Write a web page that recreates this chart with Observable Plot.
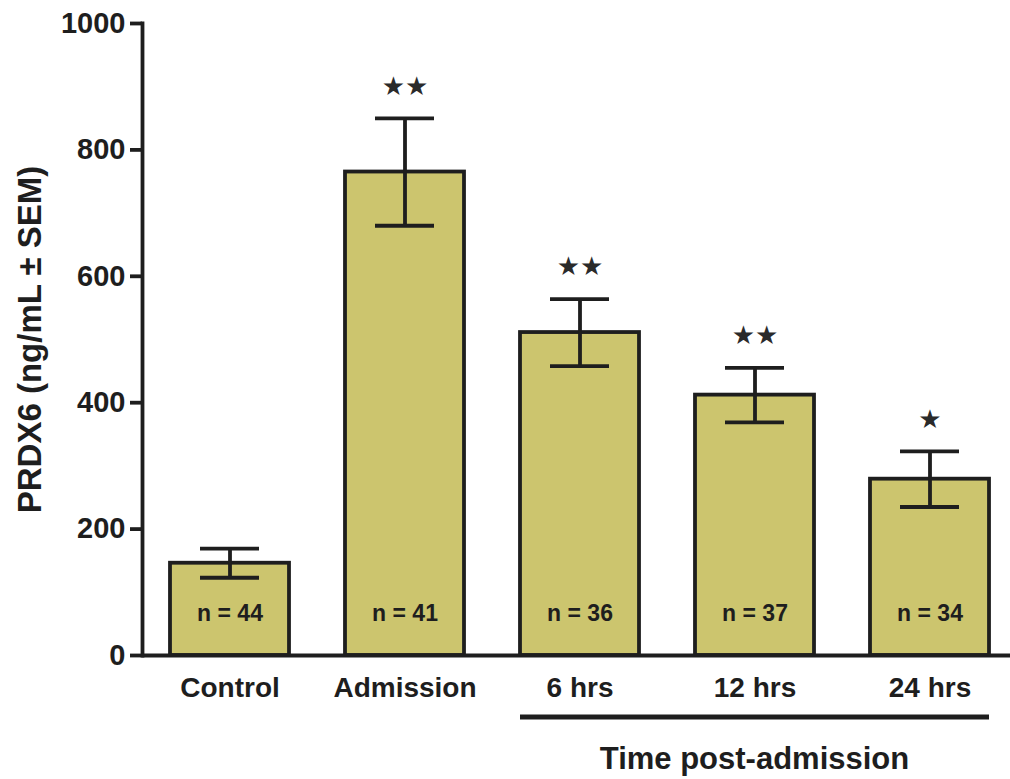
<!DOCTYPE html>
<html>
<head>
<meta charset="utf-8">
<script src="https://cdn.jsdelivr.net/npm/d3@7"></script>
<script src="https://cdn.jsdelivr.net/npm/@observablehq/plot@0.6"></script>
<style>
  html, body { margin: 0; padding: 0; background: #ffffff; }
  #chart { width: 1010px; height: 779px; }
</style>
</head>
<body>
<div id="chart"></div>
<script>
// ---- data ----
const categories = ["Control", "Admission", "6 hrs", "12 hrs", "24 hrs"];
const means      = [146, 765, 511, 412, 279];
const sems       = [23, 85, 53, 43, 44];
const nCounts    = [44, 41, 36, 37, 34];
const signif     = ["", "\u2605\u2605", "\u2605\u2605", "\u2605\u2605", "\u2605"];
const yTicks     = [0, 200, 400, 600, 800, 1000];
const groupCats  = ["6 hrs", "24 hrs"];
const yLabel     = "PRDX6 (ng/mL \u00B1 SEM)";
const groupLabel = "Time post-admission";

const rows = categories.map((c, i) => ({
  cat: c, mean: means[i], lo: means[i] - sems[i], hi: means[i] + sems[i],
  n: `n = ${nCounts[i]}`, sig: signif[i]
}));

const ink = "#1e1e1e";
const barFill = "#ccc56e";
const font = "'Liberation Sans', Arial, Helvetica, sans-serif";

const chart = Plot.plot({
  width: 1010,
  height: 779,
  marginLeft: 142,
  marginRight: 0,
  marginTop: 23,
  marginBottom: 124,
  style: { fontFamily: font, fontWeight: "bold", color: ink, background: "#ffffff", overflow: "visible" },
  x: { domain: categories, range: [168, 992], paddingInner: 0.318, paddingOuter: 0 },
  y: { domain: [0, 1000] },
  marks: [
    Plot.barY(rows, { x: "cat", y: "mean", fill: barFill, stroke: ink, strokeWidth: 3.8 }),
    Plot.ruleX(rows, { x: "cat", y1: "lo", y2: "hi", stroke: ink, strokeWidth: 3.8 }),
    Plot.tickY(rows, { x: "cat", y: "lo", stroke: ink, strokeWidth: 3.8, insetLeft: 30, insetRight: 30 }),
    Plot.tickY(rows, { x: "cat", y: "hi", stroke: ink, strokeWidth: 3.8, insetLeft: 30, insetRight: 30 }),
    Plot.text(rows, { x: "cat", y: "hi", text: "sig", dy: -32, fontSize: 26, fill: "#2a2a2a", fontFamily: "'DejaVu Sans', sans-serif" }),
    Plot.text(rows, { x: "cat", text: "n", frameAnchor: "bottom", dy: -35, fontSize: 23, fill: ink, fontWeight: "bold" }),
    Plot.axisY({ ticks: yTicks, tickSize: 12, tickPadding: 5, fontSize: 29, strokeWidth: 3.8, tickFormat: d3.format("d"), label: null, fill: ink }),
    Plot.axisX({ tickSize: 0, tickPadding: 22, fontSize: 28, label: null, fill: ink }),
    Plot.frame({ anchor: "left", stroke: ink, strokeWidth: 3.8 }),
    Plot.ruleY([0], { stroke: ink, strokeWidth: 3.8 }),
    Plot.text([yLabel], { frameAnchor: "left", textAnchor: "middle", rotate: -90, dx: -112, fontSize: 33, fill: ink, fontWeight: "bold" })
  ]
});

// group bracket under the post-admission categories, placed with the chart's own scales
const xs = chart.scale("x");
const ys = chart.scale("y");
const gx1 = xs.apply(groupCats[0]);
const gx2 = xs.apply(groupCats[1]) + xs.bandwidth;
const y0 = ys.apply(0);
const svg = d3.select(chart);
svg.append("line")
  .attr("x1", gx1).attr("x2", gx2)
  .attr("y1", y0 + 62).attr("y2", y0 + 62)
  .attr("stroke", ink).attr("stroke-width", 5);
svg.append("text")
  .attr("x", (gx1 + gx2) / 2).attr("y", y0 + 114)
  .attr("text-anchor", "middle")
  .attr("font-size", 31).attr("font-weight", "bold")
  .attr("font-family", font).attr("fill", ink)
  .text(groupLabel);

document.getElementById("chart").appendChild(chart);
</script>
</body>
</html>
